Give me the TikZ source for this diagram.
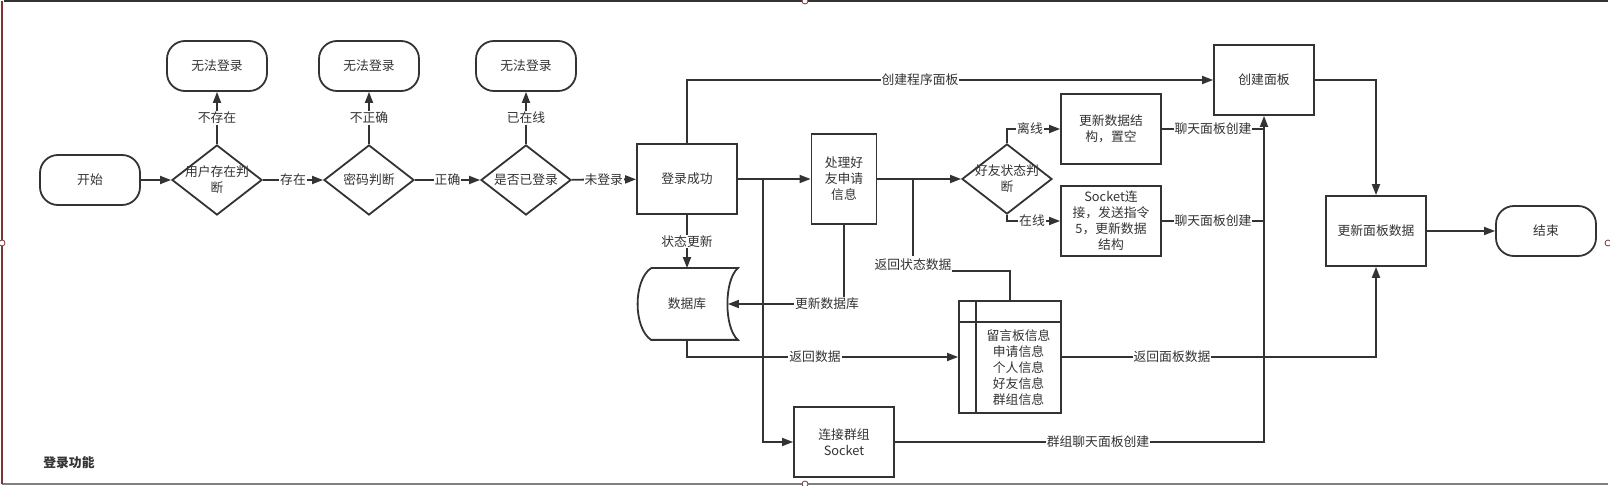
\documentclass[tikz,border=0pt]{standalone}
\usepackage{fontspec}
\setmainfont{Noto Sans CJK SC}
\usetikzlibrary{arrows.meta,shapes.geometric,calc}
\definecolor{ln}{HTML}{333333}
\definecolor{fr}{HTML}{7B3535}
\tikzset{
  fnt/.style={font=\fontsize{12.8}{16}\selectfont},
  base/.style={draw=ln, line width=1.8pt, text=ln, fnt, align=center, inner sep=0pt},
  term/.style={base, rounded corners=18pt, minimum width=100pt, minimum height=50pt},
  box/.style={base, rectangle, minimum width=100pt, minimum height=70pt},
  dia/.style={base, diamond, minimum width=90pt, minimum height=70pt},
  txt/.style={text=ln, fnt, align=center, inner sep=0pt},
  lbl/.style={fill=white, text=ln, fnt, inner sep=1pt},
  arr/.style={draw=ln, line width=1.8pt, -{Triangle[length=11pt,width=8pt]}},
  con/.style={draw=ln, line width=1.8pt},
  handle/.style={draw=fr, line width=0.8pt, fill=white},
}
\begin{document}
\begin{tikzpicture}[x=1pt,y=-1pt]
\useasboundingbox (0,0) rectangle (1610,486);
% frame
\draw[draw=ln, line width=1.5pt] (4,1) -- (1608,1);
\draw[draw=gray, line width=1.5pt] (2,484) -- (1608,484);
\draw[draw=fr, line width=1.5pt] (2,1) -- (2,484);
\draw[handle] (2,243) circle (3pt);
\draw[handle] (805,1) circle (3pt);
\draw[handle] (805,484) circle (3pt);
\draw[handle] (1608,243) circle (3pt);
\node[txt, font=\bfseries\fontsize{12.8}{14}\selectfont] (title) at (69,463) {登录功能};

% nodes
\node[term] (start) at (90,180) {开始};
\node[dia] (d1) at (217,180) {};
\node[txt] (d1t) at (d1) {用户存在判\\断};
\node[term] (no1) at (217,66) {无法登录};
\node[dia] (d2) at (369,180) {};
\node[txt] (d2t) at (d2) {密码判断};
\node[term] (no2) at (369,66) {无法登录};
\node[dia] (d3) at (526,180) {};
\node[txt] (d3t) at (d3) {是否已登录};
\node[term] (no3) at (526,66) {无法登录};
\node[box] (succ) at (687,179) {登录成功};
\node[box, minimum width=65pt, minimum height=90pt] (proc) at (844,179) {处理好\\友申请\\信息};
\node[dia] (d4) at (1007,179) {};
\node[txt] (d4t) at (d4) {好友状态判\\断};
\node[box] (upd) at (1111,129) {更新数据结\\构，置空};
\node[box] (sock) at (1111,221) {Socket连\\接，发送指令\\5，更新数据\\结构};
\node[box] (cp) at (1264,80) {创建面板};
\node[box] (upp) at (1376,231) {更新面板数据};
\node[term] (end) at (1546,231) {结束};
\node[box, draw=none] (db) at (687,304) {};
\draw[ln, line width=1.8pt]
  ($(db.north west)+(15,0)$) -- (db.north east)
  .. controls ($(db.north east)+(-14,12)$) and ($(db.south east)+(-14,-12)$) .. (db.south east)
  -- ($(db.south west)+(15,0)$)
  .. controls ($(db.south west)+(-3,-12)$) and ($(db.north west)+(-3,12)$) .. ($(db.north west)+(15,0)$);
\node[txt] (dbt) at (db) {数据库};
\coordinate (dbR) at ($(db.east)+(-10,0)$);
\node[box, minimum width=102pt, minimum height=112pt] (tbl) at (1010,357) {};
\draw[con] (976,301) -- (976,413);
\draw[con] (959,322) -- (1061,322);
\node[txt] (tblt) at (1018.5,367.5) {留言板信息\\申请信息\\个人信息\\好友信息\\群组信息};
\node[box] (grp) at (844,442) {连接群组\\Socket};

% junctions
\coordinate (j1) at (763,179);
\coordinate (j2) at (913,179);

% connectors
\draw[arr] (start) -- (d1);
\draw[arr] (d1) -- (no1) node[lbl, midway] (l1) {不存在};
\draw[arr] (d1) -- (d2) node[lbl, midway] (l2) {存在};
\draw[arr] (d2) -- (no2) node[lbl, midway] (l3) {不正确};
\draw[arr] (d2) -- (d3) node[lbl, midway] (l4) {正确};
\draw[arr] (d3) -- (no3) node[lbl, midway] (l5) {已在线};
\draw[arr] (d3) -- (succ) node[lbl, midway] (l6) {未登录};
\draw[arr] (succ) -- (proc);
\draw[arr] (proc) -- (d4);
\draw[arr] (j1) |- (grp.west);
\draw[arr] (succ.north) |- (cp.west);
\node[lbl] (l7) at (920,80) {创建程序面板};
\draw[arr] (succ.south) -- (db.north) node[lbl, midway] (l8) {状态更新};
\draw[arr] (proc.south) |- (dbR);
\node[lbl] (l9) at (827,304) {更新数据库};
\draw[arr] (db.south) |- (tbl.west);
\node[lbl] (l10) at (815,357) {返回数据};
\draw[con] (tbl.north) -- ++(0,-29) -| (j2);
\node[lbl, inner ysep=2.5pt] (l11) at (913,264.5) {返回状态数据};
\draw[arr] (d4.north) |- (upd.west);
\node[lbl] (l12) at (1030,129) {离线};
\draw[arr] (d4.south) |- (sock.west);
\node[lbl] (l13) at (1032,221) {在线};
\draw[con] (upd.east) -- (upd.east -| cp.south);
\node[lbl] (l14) at (1213,129) {聊天面板创建};
\draw[con] (sock.east) -- (sock.east -| cp.south);
\node[lbl] (l15) at (1213,221) {聊天面板创建};
\draw[arr] (grp.east) -| (cp.south);
\node[lbl] (l16) at (1098,442) {群组聊天面板创建};
\draw[arr] (tbl.east) -| (upp.south);
\node[lbl] (l17) at (1172,357) {返回面板数据};
\draw[arr] (cp.east) -| (upp.north);
\draw[arr] (upp) -- (end);
\end{tikzpicture}
\end{document}
